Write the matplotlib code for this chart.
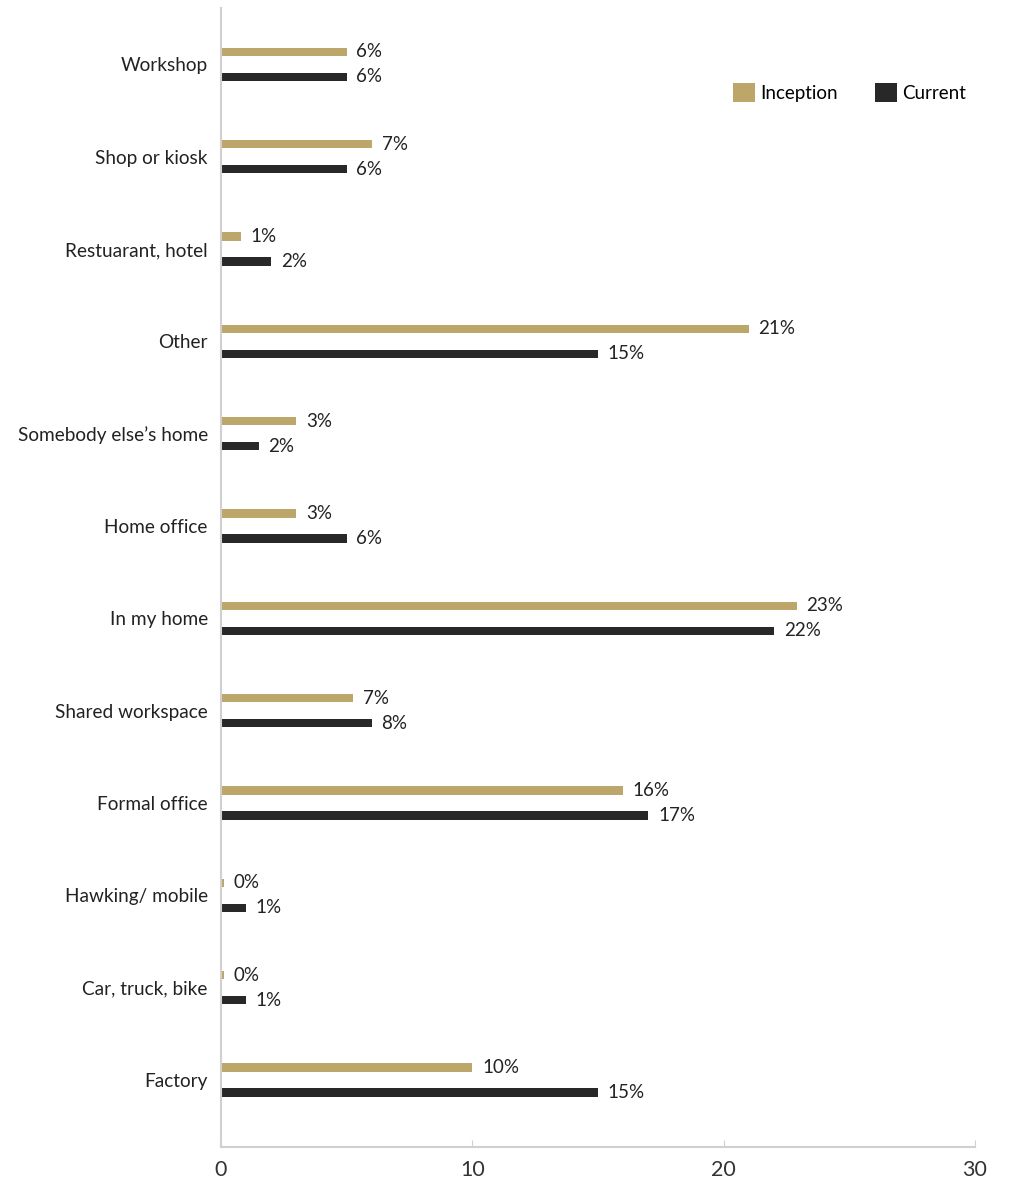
import matplotlib
matplotlib.use("Agg")
import matplotlib.pyplot as plt
import numpy as np

plt.rcParams['font.family'] = ['Lato', 'DejaVu Sans']

# categories from top to bottom
categories = ["Workshop", "Shop or kiosk", "Restuarant, hotel", "Other",
              "Somebody else\u2019s home", "Home office", "In my home",
              "Shared workspace", "Formal office", "Hawking/ mobile",
              "Car, truck, bike", "Factory"]

inception = [5, 6, 0.8, 21, 3, 3, 22.9, 5.25, 16, 0.1, 0.1, 10]
current = [5, 5, 2, 15, 1.5, 5, 22, 6, 17, 1, 1, 15]

inception_labels = ["6%", "7%", "1%", "21%", "3%", "3%", "23%", "7%", "16%", "0%", "0%", "10%"]
current_labels = ["6%", "6%", "2%", "15%", "2%", "6%", "22%", "8%", "17%", "1%", "1%", "15%"]

gold = "#BDA66A"
dark = "#282828"
axis_gray = "#D0D0D0"

fig = plt.figure(figsize=(10.15, 11.81), dpi=100)
ax = fig.add_axes([221/1015, 1 - 1147/1181, (975-221)/1015, (1147-8)/1181])

y = np.arange(len(categories))
off = 0.135
h = 0.09

b1 = ax.barh(y - off, inception, height=h, color=gold, label="Inception")
b2 = ax.barh(y + off, current, height=h, color=dark, label="Current")

ax.bar_label(b1, labels=inception_labels, padding=7, fontsize=13.5, color="#222222")
ax.bar_label(b2, labels=current_labels, padding=7, fontsize=13.5, color="#222222")

ax.set_xlim(0, 30)
ax.set_ylim(len(categories) - 1 + 0.725, -0.61)
ax.set_yticks(y)
ax.set_yticklabels(categories, fontsize=13.7, color="#222222")
ax.tick_params(axis="y", length=0, pad=9.5)
ax.set_xticks([0, 10, 20, 30])
ax.tick_params(axis="x", direction="in", length=5, color=axis_gray,
               labelsize=15.5, labelcolor="#333333", pad=9)

for s in ["top", "right"]:
    ax.spines[s].set_visible(False)
for s in ["left", "bottom"]:
    ax.spines[s].set_color(axis_gray)
    ax.spines[s].set_linewidth(1.5)

ax.legend(loc="upper right", bbox_to_anchor=(1.011, 0.949), ncol=2, frameon=False,
          fontsize=13.5, handlelength=1.15, handleheight=1.15, handletextpad=0.3,
          columnspacing=2.0)

fig.savefig("out.png", dpi=100)
